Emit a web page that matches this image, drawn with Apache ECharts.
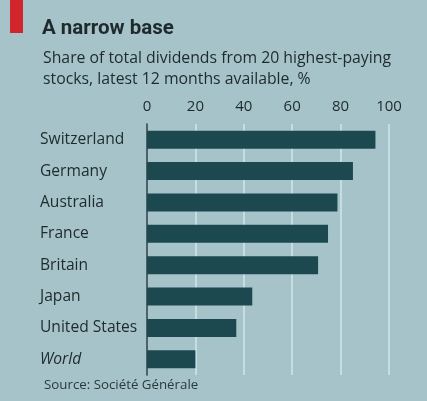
<!DOCTYPE html>
<html><head><meta charset="utf-8">
<script src="https://cdn.jsdelivr.net/npm/echarts@6/dist/echarts.min.js"></script>
<style>html,body{margin:0;padding:0;background:#a5c3c9;}#c{width:427px;height:401px;}</style>
</head><body><div id="c"></div>
<script>
const categories = ["Switzerland","Germany","Australia","France","Britain","Japan","United States","World"];
const values = [94.4, 85.1, 78.7, 74.8, 70.7, 43.5, 36.9, 20.0];
const tickValues = [0, 20, 40, 60, 80, 100];

const font = '"Open Sans", "Noto Sans", sans-serif';
const chart = echarts.init(document.getElementById('c'));
chart.setOption({
  backgroundColor: '#a5c3c9',
  animation: false,
  title: [
    {text: 'A narrow base', left: 37, top: 13,
     textStyle: {fontFamily: 'Roboto, sans-serif', fontSize: 20.5, fontWeight: 'bold', color: '#1e2a2c'}},
    {text: 'Share of total dividends from 20 highest-paying\nstocks, latest 12 months available, %', left: 38, top: 43,
     textStyle: {fontFamily: font, fontSize: 15.8, fontWeight: 'normal', color: '#1e2a2c', lineHeight: 21}},
    {text: 'Source: Société Générale', left: 39, top: 374,
     textStyle: {fontFamily: font, fontSize: 13.3, fontWeight: 'normal', color: '#2a3a3c'}}
  ],
  graphic: [{type: 'rect', shape: {x: 10, y: 0, width: 13, height: 33}, style: {fill: '#d0262c'}}],
  grid: {left: 147, right: 38, top: 124, bottom: 26},
  xAxis: {
    type: 'value', position: 'top', min: 0, max: 100, interval: 20,
    axisLine: {show: false}, axisTick: {show: false},
    axisLabel: {fontFamily: font, fontSize: 15, color: '#1e2a2c', margin: 10,
      formatter: v => tickValues.includes(v) ? String(v) : ''},
    splitLine: {show: true, lineStyle: {color: '#d2e6ea', width: 1.5}}
  },
  yAxis: {
    type: 'category', data: categories, inverse: true,
    axisLine: {show: true, onZero: false, lineStyle: {color: '#22393d', width: 1.5}},
    axisTick: {show: false},
    axisLabel: {fontFamily: font, fontSize: 15.6, color: '#1e2a2c', align: 'left', margin: 107,
      formatter: v => v === 'World' ? '{i|' + v + '}' : v,
      rich: {i: {fontFamily: font, fontSize: 15.6, fontStyle: 'italic', color: '#1e2a2c'}}}
  },
  series: [{
    type: 'bar', data: values, barWidth: 18,
    itemStyle: {color: '#1c4850'}
  }]
});
</script></body></html>
